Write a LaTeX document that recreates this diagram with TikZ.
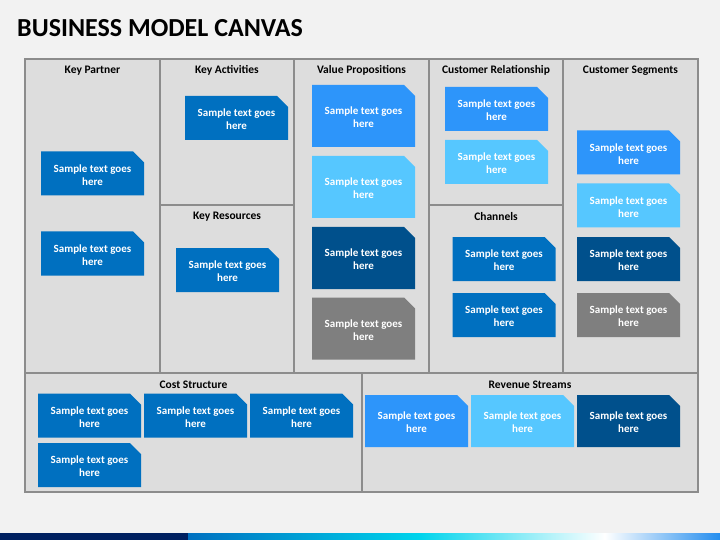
\documentclass[tikz,border=0pt]{standalone}
\usepackage{fontspec}
\setmainfont{Carlito}
\usetikzlibrary{shapes.misc}
\definecolor{pagebg}{HTML}{F2F2F2}
\definecolor{panelbg}{HTML}{DDDDDD}
\definecolor{panelline}{HTML}{8C8C8C}
\definecolor{midblue}{HTML}{0070C0}
\definecolor{brightblue}{HTML}{2D95FA}
\definecolor{skyblue}{HTML}{56C7FF}
\definecolor{deepblue}{HTML}{00508C}
\definecolor{slategrey}{HTML}{7F7F7F}
\definecolor{navy}{HTML}{002060}
\tikzset{
  panel/.style={fill=panelbg, draw=panelline, line width=1.2pt},
  heading/.style={font=\fontsize{11.5}{13}\selectfont\bfseries, text=black},
  card/.style={chamfered rectangle, chamfered rectangle corners=north east,
    chamfered rectangle xsep=5.5pt, chamfered rectangle ysep=5.5pt,
    minimum width=103pt, minimum height=44pt, inner sep=0pt, draw=none,
    text=white, align=center, font=\fontsize{11}{13}\selectfont\bfseries},
  tallcard/.style={card, minimum height=62pt},
  widecard/.style={card, minimum height=52pt}
}
\newcommand{\sampletext}{\rule{0pt}{11pt}Sample text goes\\here}
\begin{document}
\begin{tikzpicture}[x=1pt, y=-1pt]
 \useasboundingbox (0,0) rectangle (720,540);
 \fill [pagebg] (0,0) rectangle (720,540);
 % title
 \node [anchor=base west, inner sep=0pt, font=\fontsize{26}{30}\selectfont\bfseries] (title) at (17,37) {BUSINESS MODEL CANVAS};
 % panels
 \draw [panel] (25,59) rectangle (160,373);
 \draw [panel] (160,59) rectangle (294,205);
 \draw [panel] (160,205) rectangle (294,373);
 \draw [panel] (294,59) rectangle (429,373);
 \draw [panel] (429,59) rectangle (563,205);
 \draw [panel] (429,205) rectangle (563,373);
 \draw [panel] (563,59) rectangle (698,373);
 \draw [panel] (25,373) rectangle (362,492);
 \draw [panel] (362,373) rectangle (698,492);
 % headings
 \node [heading] (kp) at (92.5,70.5) {Key Partner};
 \node [heading] (ka) at (227,70.5) {Key Activities};
 \node [heading] (kr) at (227,216.5) {Key Resources};
 \node [heading] (vp) at (361.5,70.5) {Value Propositions};
 \node [heading] (cr) at (496,70.5) {Customer Relationship};
 \node [heading] (ch) at (496,216.5) {Channels};
 \node [heading] (cs) at (630.5,70.5) {Customer Segments};
 \node [heading] (cost) at (193.5,384.5) {Cost Structure};
 \node [heading] (rev) at (530,384.5) {Revenue Streams};
 % key partner
 \node [card, fill=midblue] (kp1) at (92.5,173.5) {\sampletext};
 \node [card, fill=midblue] (kp2) at (92.5,253.5) {\sampletext};
 % key activities and resources
 \node [card, fill=midblue] (ka1) at (236.5,118) {\sampletext};
 \node [card, fill=midblue] (kr1) at (227.5,270) {\sampletext};
 % value propositions
 \node [tallcard, fill=brightblue] (vp1) at (363.5,116) {\sampletext};
 \node [tallcard, fill=skyblue] (vp2) at (363.5,187) {\sampletext};
 \node [tallcard, fill=deepblue] (vp3) at (363.5,258) {\sampletext};
 \node [tallcard, fill=slategrey] (vp4) at (363.5,328.5) {\sampletext};
 % customer relationship and channels
 \node [card, fill=brightblue] (cr1) at (496.5,109) {\sampletext};
 \node [card, fill=skyblue] (cr2) at (496.5,162) {\sampletext};
 \node [card, fill=midblue] (ch1) at (504,259) {\sampletext};
 \node [card, fill=midblue] (ch2) at (504,315) {\sampletext};
 % customer segments
 \node [card, fill=brightblue] (cs1) at (628.5,152.5) {\sampletext};
 \node [card, fill=skyblue] (cs2) at (628.5,205.5) {\sampletext};
 \node [card, fill=deepblue] (cs3) at (628.5,259) {\sampletext};
 \node [card, fill=slategrey] (cs4) at (628.5,315) {\sampletext};
 % cost structure
 \node [card, fill=midblue] (cost1) at (89.5,415.5) {\sampletext};
 \node [card, fill=midblue] (cost2) at (195.5,415.5) {\sampletext};
 \node [card, fill=midblue] (cost3) at (301.5,415.5) {\sampletext};
 \node [card, fill=midblue] (cost4) at (89.5,465) {\sampletext};
 % revenue streams
 \node [widecard, fill=brightblue] (rev1) at (416.5,421) {\sampletext};
 \node [widecard, fill=skyblue] (rev2) at (522.5,421) {\sampletext};
 \node [widecard, fill=deepblue] (rev3) at (628.5,421) {\sampletext};
 % bottom bar
 \fill [navy] (0,533) rectangle (188,540);
 \shade [left color=midblue, right color=cyan!70!midblue] (188,533) rectangle (420,540);
 \shade [left color=cyan!70!midblue, right color=white] (419.5,533) rectangle (605,540);
 \shade [left color=white, right color=brightblue!80!midblue] (604.5,533) rectangle (720,540);
\end{tikzpicture}
\end{document}
